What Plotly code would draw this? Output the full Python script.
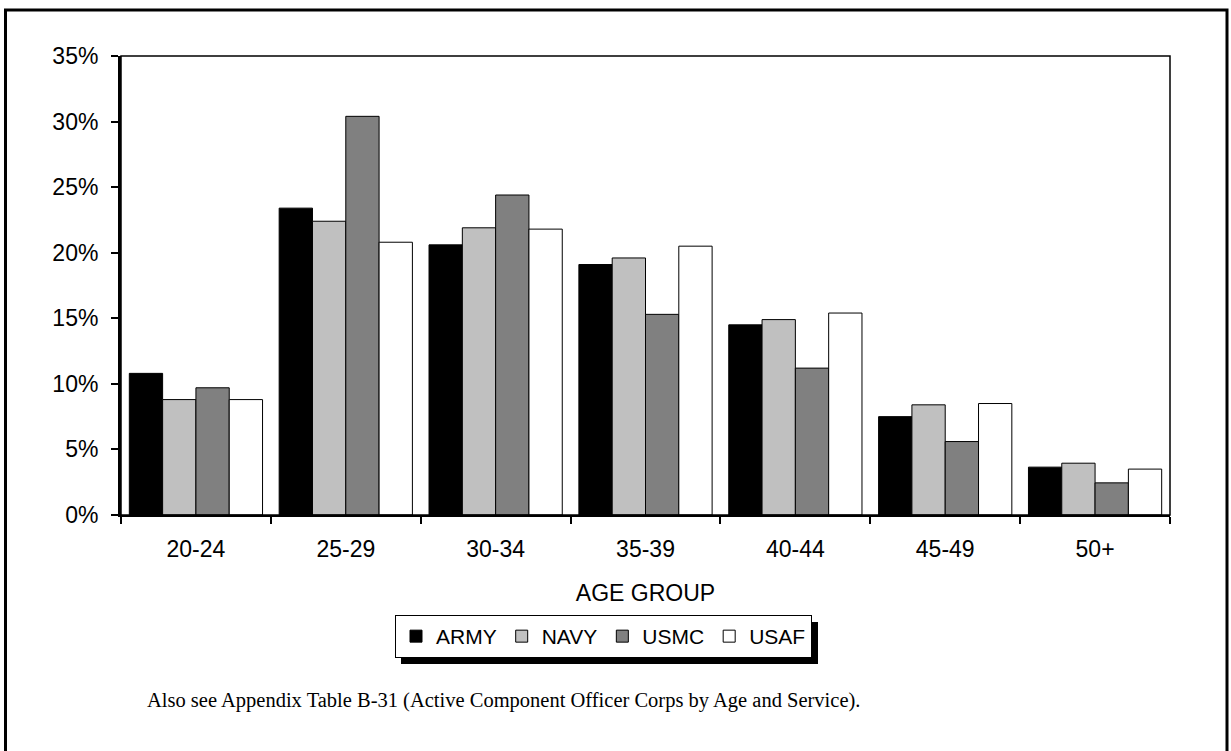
import plotly.graph_objects as go

age_groups = ["20-24", "25-29", "30-34", "35-39", "40-44", "45-49", "50+"]
army = [10.8, 23.4, 20.6, 19.1, 14.5, 7.5, 3.65]
navy = [8.8, 22.4, 21.9, 19.6, 14.9, 8.4, 3.95]
usmc = [9.7, 30.4, 24.4, 15.3, 11.2, 5.6, 2.45]
usaf = [8.8, 20.8, 21.8, 20.5, 15.4, 8.5, 3.5]

series = [
    ("ARMY", army, "#000000"),
    ("NAVY", navy, "#C0C0C0"),
    ("USMC", usmc, "#808080"),
    ("USAF", usaf, "#FFFFFF"),
]

W, H = 1231, 751
L, R, T, B = 121, 1170, 56, 515
pw, ph = R - L, B - T

def px(x):
    return (x - L) / pw

def py(y):
    return (B - y) / ph

fig = go.Figure()
for name, vals, col in series:
    fig.add_trace(go.Bar(
        x=age_groups, y=vals, name=name,
        marker=dict(color=col, line=dict(color="#000000", width=1)),
    ))

font = "Arial, Liberation Sans, sans-serif"

fig.update_layout(
    width=W, height=H,
    margin=dict(l=L, r=W - R, t=T, b=H - B, pad=0),
    paper_bgcolor="white", plot_bgcolor="white",
    barmode="group", bargap=0.111, bargroupgap=0,
    font=dict(family=font, size=23, color="black"),
    showlegend=True,
    legend=dict(
        orientation="h", x=px(395), xanchor="left", y=py(615), yanchor="top",
        bgcolor="white", bordercolor="black", borderwidth=1,
        font=dict(family=font, size=21, color="black"),
        itemwidth=30, tracegroupgap=0,
    ),
    xaxis=dict(
        type="category", showline=True, linecolor="black", linewidth=2,
        ticks="outside", tickson="boundaries", ticklen=7, tickwidth=2, tickcolor="black",
        showgrid=False, zeroline=False, ticklabelstandoff=12,
        tickfont=dict(family=font, size=23),
        title=dict(text="AGE GROUP", font=dict(family=font, size=23), standoff=24),
    ),
    yaxis=dict(
        range=[0, 35], dtick=5, tick0=0, ticksuffix="%",
        showline=True, linecolor="black", linewidth=3,
        ticks="outside", ticklen=7, tickwidth=2, tickcolor="black",
        showgrid=False, zeroline=False, ticklabelstandoff=8,
        tickfont=dict(family=font, size=23),
    ),
    shapes=[
        dict(type="rect", xref="paper", yref="paper", x0=0, x1=1, y0=0, y1=1,
             line=dict(color="black", width=1.5), layer="above"),
        dict(type="rect", xref="paper", yref="paper",
             x0=px(5.5), x1=px(1227), y0=py(790), y1=py(10),
             line=dict(color="black", width=3), layer="above"),
        dict(type="rect", xref="paper", yref="paper",
             x0=px(401), x1=px(818), y0=py(664), y1=py(622),
             fillcolor="black", line=dict(width=0), layer="below"),
    ],
    annotations=[
        dict(text="Also see Appendix Table B-31 (Active Component Officer Corps by Age and Service).",
             xref="paper", yref="paper", x=px(145), y=py(700), xanchor="left", yanchor="middle",
             showarrow=False, font=dict(family="Liberation Serif, Times New Roman, serif", size=20.5, color="black")),
    ],
)

fig.write_html("out.html", config={"displayModeBar": False},
               post_script="document.body.style.margin='0px';")
